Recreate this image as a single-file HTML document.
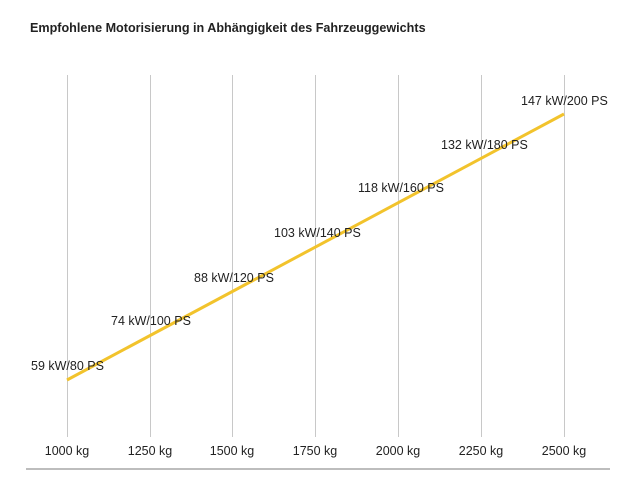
<!DOCTYPE html>
<html><head><meta charset="utf-8"><style>
body{margin:0;background:#fff;width:640px;height:480px;overflow:hidden}
svg text{font-family:"Liberation Sans",sans-serif;fill:#222}
</style></head><body>
<svg width="640" height="480" xmlns="http://www.w3.org/2000/svg">
<text x="30" y="32" font-size="12.6" font-weight="bold">Empfohlene Motorisierung in Abhängigkeit des Fahrzeuggewichts</text>
<g stroke="#c8c8c8" stroke-width="1">
<line x1="67.5" y1="75" x2="67.5" y2="437"/>
<line x1="150.5" y1="75" x2="150.5" y2="437"/>
<line x1="232.5" y1="75" x2="232.5" y2="437"/>
<line x1="315.5" y1="75" x2="315.5" y2="437"/>
<line x1="398.5" y1="75" x2="398.5" y2="437"/>
<line x1="481.5" y1="75" x2="481.5" y2="437"/>
<line x1="564.5" y1="75" x2="564.5" y2="437"/>
</g>
<line x1="26" y1="469" x2="610" y2="469" stroke="#bdbdbd" stroke-width="2"/>
<line x1="67" y1="380" x2="564" y2="114" stroke="#f2c32c" stroke-width="3"/>
<g font-size="12.5">
<text x="31" y="370">59 kW/80 PS</text>
<text x="111" y="325">74 kW/100 PS</text>
<text x="194" y="282">88 kW/120 PS</text>
<text x="274" y="237">103 kW/140 PS</text>
<text x="358" y="192">118 kW/160 PS</text>
<text x="441" y="149">132 kW/180 PS</text>
<text x="521" y="105">147 kW/200 PS</text>
</g>
<g font-size="12.5" text-anchor="middle">
<text x="67" y="455">1000 kg</text>
<text x="150" y="455">1250 kg</text>
<text x="232" y="455">1500 kg</text>
<text x="315" y="455">1750 kg</text>
<text x="398" y="455">2000 kg</text>
<text x="481" y="455">2250 kg</text>
<text x="564" y="455">2500 kg</text>
</g>
</svg>
</body></html>
